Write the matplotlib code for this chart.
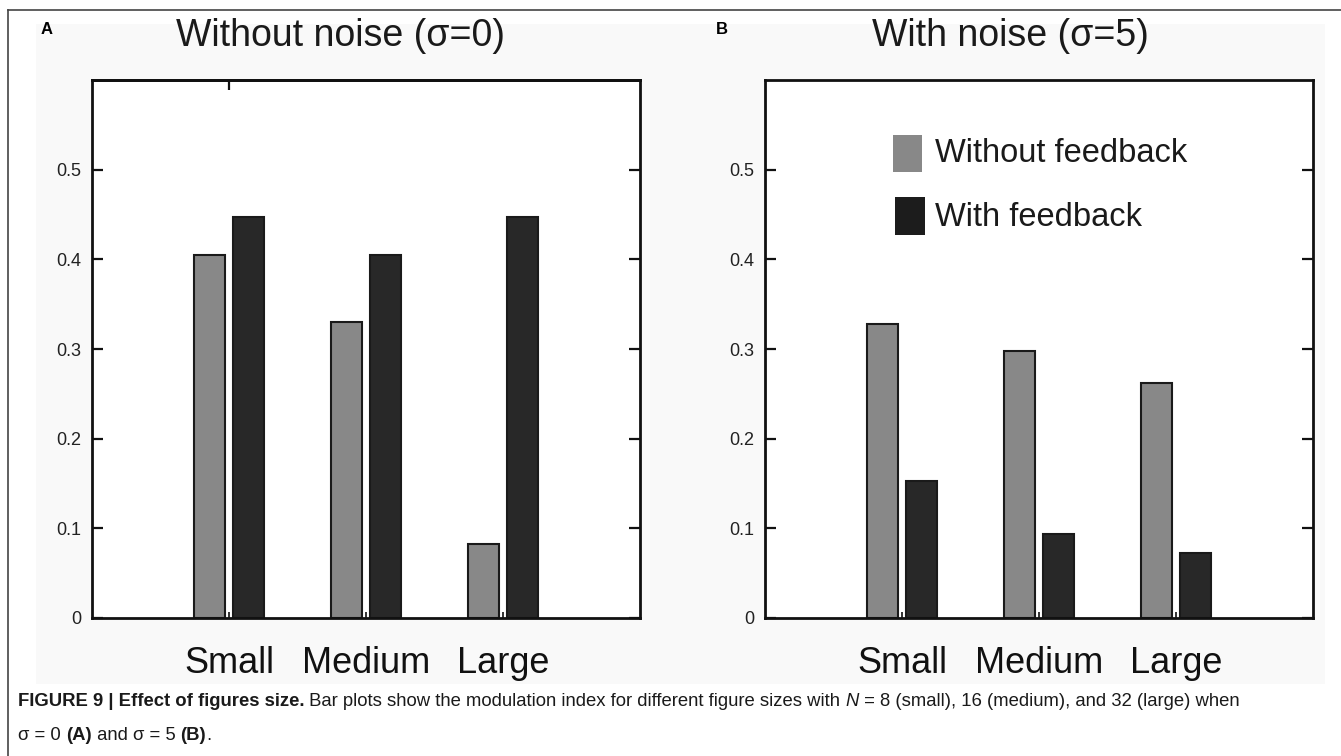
import matplotlib
matplotlib.use("Agg")
import matplotlib.pyplot as plt
from matplotlib.lines import Line2D
from matplotlib.patches import Rectangle
import numpy as np

plt.rcParams['font.family'] = ['Liberation Sans', 'DejaVu Sans']

# ---- data -----------------------------------------------------------
categories = ["Small", "Medium", "Large"]
ytick_values = [0, 0.1, 0.2, 0.3, 0.4, 0.5]
ytick_labels = ["0", "0.1", "0.2", "0.3", "0.4", "0.5"]

without_fb_clean = [0.405, 0.33, 0.082]
with_fb_clean = [0.447, 0.405, 0.447]
without_fb_noise = [0.328, 0.298, 0.262]
with_fb_noise = [0.153, 0.094, 0.073]

series_labels = ["Without feedback", "With feedback"]
panel_titles = ["Without noise (\u03c3=0)", "With noise (\u03c3=5)"]
panel_letters = ["A", "B"]

# ---- figure ---------------------------------------------------------
W, H = 1341, 756
fig = plt.figure(figsize=(W / 100, H / 100), dpi=100)
fig.patch.set_facecolor("white")


def fx(px):
    return px / W


def fy(py):
    return 1 - py / H


# faint backdrop behind the plotted panels
fig.patches.append(Rectangle((fx(36), fy(684)), fx(1325) - fx(36), fy(24) - fy(684),
                             transform=fig.transFigure, facecolor="#f9f9f9",
                             edgecolor="none", zorder=-5))

# page frame (top and left rules)
fig.add_artist(Line2D([fx(8), 1], [fy(10), fy(10)], color="#444444", lw=1.2))
fig.add_artist(Line2D([fx(8), fx(8)], [fy(10), 0], color="#444444", lw=1.2))

gray = "#888888"
dark = "#282828"
edge = "#1a1a1a"

panels = [
    (92, 640, without_fb_clean, with_fb_clean),
    (765, 1313, without_fb_noise, with_fb_noise),
]
top_px, bottom_px = 80, 618

x = np.arange(1, len(categories) + 1)
offset, width = 0.145, 0.225

axes = []
for i, (left, right, vals_a, vals_b) in enumerate(panels):
    ax = fig.add_axes([fx(left), fy(bottom_px), fx(right) - fx(left), fy(top_px) - fy(bottom_px)])
    ax.set_facecolor("white")
    ax.bar(x - offset, vals_a, width, color=gray, edgecolor=edge, linewidth=1.5, zorder=2)
    ax.bar(x + offset, vals_b, width, color=dark, edgecolor=edge, linewidth=1.5, zorder=2)
    ax.set_xlim(0, 4)
    ax.set_ylim(0, 0.6)
    ax.set_yticks(ytick_values, ytick_labels)
    ax.set_xticks(x, categories)
    for s in ax.spines.values():
        s.set_linewidth(2.0)
        s.set_color("#111111")
    ax.tick_params(axis="y", direction="in", length=8, width=1.6, left=True, right=True,
                   labelsize=13, pad=8, colors="#111111", labelcolor="#222222")
    ax.tick_params(axis="x", direction="in", length=4, width=1.2, bottom=True, top=False,
                   labelsize=26, pad=20, colors="#111111")
    if i == 0:
        top = ax.secondary_xaxis("top")
        top.set_xticks([x[0]], [""])
        top.tick_params(direction="in", length=7, width=1.6, colors="#111111")
        top.spines["top"].set_linewidth(2.0)
    axes.append(ax)

# titles and panel letters
fig.text(fx(341), fy(36), panel_titles[0], fontsize=27, ha="center", va="center", color="#1a1a1a")
fig.text(fx(1010), fy(36), panel_titles[1], fontsize=27, ha="center", va="center", color="#1a1a1a")
fig.text(fx(47), fy(30), panel_letters[0], fontsize=12, fontweight="bold", ha="center", va="center")
fig.text(fx(722), fy(30), panel_letters[1], fontsize=12, fontweight="bold", ha="center", va="center")

# legend in panel B
for (x0, y0, x1, y1), col, lab, ty in [
    ((893, 135, 922, 172), gray, series_labels[0], 153),
    ((895, 197, 925, 235), "#1c1c1c", series_labels[1], 217),
]:
    fig.patches.append(Rectangle((fx(x0), fy(y1)), fx(x1) - fx(x0), fy(y0) - fy(y1),
                                 transform=fig.transFigure, facecolor=col, edgecolor="none", zorder=5))
    fig.text(fx(935), fy(ty), lab, fontsize=23.5, ha="left", va="center", color="#1a1a1a", zorder=5)

# caption, laid out as runs of differently styled text
renderer = fig.canvas.get_renderer()


def text_width(s, size, **kw):
    t = fig.text(0, 0, s, fontsize=size, **kw)
    w = t.get_window_extent(renderer).width
    t.remove()
    return w


def draw_runs(x_px, y_px, runs, size):
    pos = x_px
    for s, kw in runs:
        fig.text(fx(pos), fy(y_px), s, fontsize=size, va="baseline", ha="left",
                 color="#1a1a1a", **kw)
        pos += text_width("x" + s + "x", size, **kw) - text_width("xx", size, **kw)


bold = dict(fontweight="bold")
plain = dict()
ital = dict(fontstyle="italic")
line1 = [
    ("FIGURE 9 | Effect of figures size.", bold),
    (" Bar plots show the modulation index for different figure sizes with ", plain),
    ("N", ital),
    (" = 8 (small), 16 (medium), and 32 (large) when", plain),
]
line2 = [
    ("\u03c3 = 0 ", plain),
    ("(A)", bold),
    (" and \u03c3 = 5 ", plain),
    ("(B)", bold),
    (".", plain),
]
draw_runs(18, 706, line1, 13.3)
draw_runs(18, 740, line2, 13.3)

fig.savefig("out.png", dpi=100)
